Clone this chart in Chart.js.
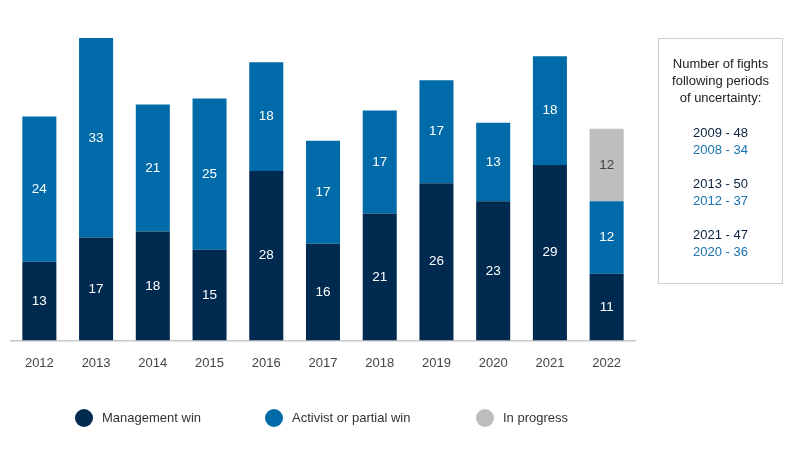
<!DOCTYPE html>
<html>
<head>
<meta charset="utf-8">
<script src="https://cdn.jsdelivr.net/npm/chart.js@4"></script>
<style>
  body { margin: 0; background: #fff; font-family: "Liberation Sans", Arial, sans-serif; }
  #wrap { position: relative; width: 800px; height: 456px; }
  #mycanvas { position: absolute; left: 0; top: 0; }
  #note {
    position: absolute; left: 658px; top: 38px; width: 125px; height: 246px;
    border: 1px solid #cfcfcf; box-sizing: border-box; text-align: center;
    font-size: 13px; line-height: 17px; color: #222;
  }
  #note .head { margin-top: 16px; margin-bottom: 18px; }
  #note .grp { margin-bottom: 17px; }
  #note .a { color: #0b2340; }
  #note .b { color: #1a72b0; }
  #legend { position: absolute; top: 409px; left: 0; font-size: 13px; color: #333; }
  #legend .it { position: absolute; white-space: nowrap; line-height: 18px; }
  #legend .dot { position: absolute; left: 0; top: 0; width: 18px; height: 18px; border-radius: 50%; }
</style>
</head>
<body>
<div id="wrap">
  <canvas id="mycanvas" width="800" height="456"></canvas>
  <div id="note">
    <div class="head">Number of fights<br>following periods<br>of uncertainty:</div>
    <div class="grp"><div class="a">2009 - 48</div><div class="b">2008 - 34</div></div>
    <div class="grp"><div class="a">2013 - 50</div><div class="b">2012 - 37</div></div>
    <div class="grp"><div class="a">2021 - 47</div><div class="b">2020 - 36</div></div>
  </div>
  <div id="legend"></div>
</div>
<script>
// データ
const years = ['2012', '2013', '2014', '2015', '2016', '2017', '2018', '2019', '2020', '2021', '2022'];
const managementWin = [13, 17, 18, 15, 28, 16, 21, 26, 23, 29, 11];
const activistWin = [24, 33, 21, 25, 18, 17, 17, 17, 13, 18, 12];
const inProgress = [0, 0, 0, 0, 0, 0, 0, 0, 0, 0, 12];
const seriesNames = ['Management win', 'Activist or partial win', 'In progress'];
const seriesColors = ['#002a4f', '#006ba8', '#bdbec0'];
const labelColors = ['#ffffff', '#ffffff', '#444444'];

// 凡例 (HTML)
const legendPos = [75, 265, 476];
const legend = document.querySelector('#legend');
seriesNames.forEach((name, i) => {
  const it = document.createElement('div');
  it.className = 'it';
  it.style.left = legendPos[i] + 'px';
  it.innerHTML = '<span class="dot" style="background:' + seriesColors[i] + '"></span>' +
    '<span style="margin-left:27px">' + name + '</span>';
  legend.appendChild(it);
});

// 棒の中に数値を描く
const barLabels = {
  id: 'barLabels',
  afterDatasetsDraw(chart) {
    const ctx = chart.ctx;
    ctx.save();
    ctx.font = '13.5px "Liberation Sans", Arial, sans-serif';
    ctx.textAlign = 'center';
    ctx.textBaseline = 'middle';
    chart.data.datasets.forEach((ds, di) => {
      const meta = chart.getDatasetMeta(di);
      meta.data.forEach((bar, i) => {
        const v = ds.data[i];
        if (!v) return;
        ctx.fillStyle = labelColors[di];
        ctx.fillText(v, bar.x, (bar.y + bar.base) / 2);
      });
    });
    ctx.restore();
  }
};

const ctx = document.querySelector('#mycanvas').getContext('2d');
const myChart = new Chart(ctx, {
  type: 'bar',
  data: {
    labels: years,
    datasets: [
      { label: seriesNames[0], data: managementWin, backgroundColor: seriesColors[0] },
      { label: seriesNames[1], data: activistWin, backgroundColor: seriesColors[1] },
      { label: seriesNames[2], data: inProgress, backgroundColor: seriesColors[2] }
    ]
  },
  options: {
    responsive: false,
    animation: false,
    layout: { padding: { left: 11, right: 165, top: 38, bottom: 78 } },
    datasets: { bar: { categoryPercentage: 1, barPercentage: 0.6 } },
    plugins: { legend: { display: false }, tooltip: { enabled: false } },
    scales: {
      x: {
        stacked: true,
        grid: { display: false },
        border: { display: true, color: '#c8c8c8', width: 1.5 },
        ticks: { color: '#444', font: { size: 13, family: '"Liberation Sans", Arial, sans-serif' }, padding: 7 }
      },
      y: {
        stacked: true,
        display: false,
        min: 0,
        max: 50
      }
    }
  },
  plugins: [barLabels]
});
</script>
</body>
</html>
